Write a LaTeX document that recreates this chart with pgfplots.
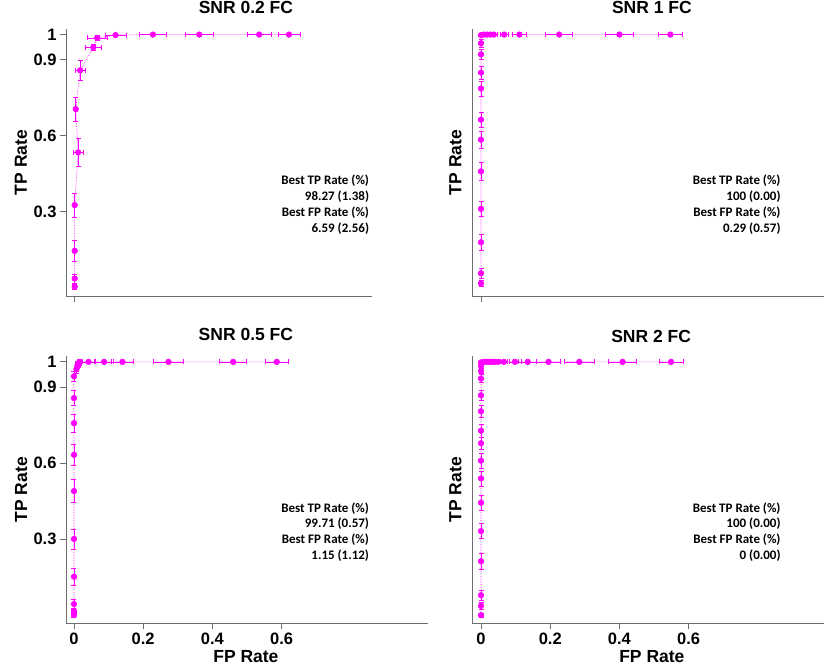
\documentclass[border=0pt]{standalone}
\usepackage{pgfplots}
\usepackage{pgfplotstable}
\pgfplotsset{compat=1.18}
\usepackage{fontspec}
\setmainfont{Liberation Sans}
\newfontfamily\calib{Carlito}
\definecolor{mag}{RGB}{255,0,255}
\definecolor{axgray}{RGB}{110,110,110}

\pgfplotstableread{
x y ex ey
0.002 0.005 0.003 0.010
0.002 0.037 0.003 0.017
0.002 0.146 0.003 0.040
0.002 0.327 0.003 0.047
0.012 0.535 0.015 0.054
0.005 0.706 0.005 0.047
0.018 0.859 0.014 0.040
0.056 0.950 0.023 0.012
0.067 0.987 0.028 0.011
0.120 0.998 0.031 0.003
0.228 1.000 0.039 0.000
0.362 1.000 0.041 0.000
0.535 1.000 0.035 0.000
0.621 1.000 0.032 0.000
}\snrA

\pgfplotstableread{
x y ex ey
0.000 0.018 0.002 0.010
0.000 0.058 0.002 0.020
0.000 0.180 0.002 0.030
0.000 0.312 0.002 0.030
0.000 0.460 0.002 0.035
0.000 0.585 0.002 0.035
0.000 0.664 0.002 0.030
0.000 0.787 0.002 0.030
0.000 0.850 0.002 0.025
0.000 0.922 0.002 0.020
0.000 0.966 0.002 0.015
0.000 0.998 0.002 0.004
0.008 1.000 0.006 0.000
0.017 1.000 0.008 0.000
0.027 1.000 0.009 0.000
0.037 1.000 0.010 0.000
0.067 1.000 0.012 0.000
0.111 1.000 0.020 0.000
0.226 1.000 0.039 0.000
0.400 1.000 0.040 0.000
0.547 1.000 0.035 0.000
}\snrB

\pgfplotstableread{
x y ex ey
0.000 0.000 0.002 0.008
0.000 0.009 0.002 0.010
0.000 0.017 0.002 0.012
0.000 0.044 0.002 0.020
0.000 0.152 0.002 0.035
0.000 0.301 0.002 0.040
0.000 0.490 0.002 0.045
0.000 0.633 0.002 0.040
0.000 0.758 0.002 0.035
0.000 0.857 0.002 0.030
0.000 0.943 0.002 0.020
0.007 0.971 0.006 0.015
0.010 0.984 0.007 0.010
0.013 0.995 0.008 0.006
0.017 1.000 0.008 0.000
0.042 1.000 0.017 0.000
0.087 1.000 0.026 0.000
0.140 1.000 0.031 0.000
0.273 1.000 0.043 0.000
0.460 1.000 0.039 0.000
0.586 1.000 0.034 0.000
}\snrC

\pgfplotstableread{
x y ex ey
0.000 0.000 0.002 0.008
0.000 0.037 0.002 0.015
0.000 0.079 0.002 0.020
0.000 0.213 0.002 0.030
0.000 0.332 0.002 0.030
0.000 0.444 0.002 0.030
0.000 0.540 0.002 0.030
0.000 0.610 0.002 0.030
0.000 0.679 0.002 0.025
0.000 0.728 0.002 0.025
0.000 0.805 0.002 0.025
0.000 0.868 0.002 0.020
0.000 0.934 0.002 0.015
0.000 0.964 0.002 0.010
0.000 0.984 0.002 0.008
0.000 0.998 0.002 0.004
0.008 1.000 0.005 0.000
0.016 1.000 0.006 0.000
0.024 1.000 0.006 0.000
0.032 1.000 0.007 0.000
0.039 1.000 0.008 0.000
0.049 1.000 0.008 0.000
0.066 1.000 0.010 0.000
0.098 1.000 0.017 0.000
0.135 1.000 0.026 0.000
0.195 1.000 0.034 0.000
0.284 1.000 0.043 0.000
0.409 1.000 0.041 0.000
0.549 1.000 0.035 0.000
}\snrD

\newcommand{\bigbf}{\fontsize{17.5}{20}\selectfont\bfseries}
\pgfplotsset{
  rocax/.style={
    scale only axis, anchor=south west,
    height=267pt,
    ymin=-0.032, ymax=1.022,
    axis lines=left,
    axis line style={-, draw=axgray, line width=0.9pt},
    tick style={draw=axgray, line width=0.9pt},
    tick align=outside,
    major tick length=6pt,
    clip=false,
    /pgf/number format/assume math mode=true,
    ticklabel style={font=\fontsize{16.5}{18}\selectfont\bfseries, text=black},
  },
  barsty/.style={mag, solid, line width=0.6pt, forget plot},
  capy/.style={mag, only marks, mark=-, mark size=2.5pt, mark options={solid, draw=mag, line width=0.6pt}, forget plot},
  capx/.style={mag, only marks, mark=|, mark size=2.5pt, mark options={solid, draw=mag, line width=0.6pt}, forget plot},
  rocline/.style={
    mag, densely dotted, line width=0.6pt,
    mark=*, mark size=2.8pt, mark options={solid, fill=mag, draw=mag},
  },
}
\newcommand{\rocdata}[1]{%
  % vertical (TP rate) error bars
  \addplot[barsty, quiver={u=0, v=2*\thisrow{ey}}] table[x=x, y expr=\thisrow{y}-\thisrow{ey}] {#1};
  \addplot[capy] table[x=x, y expr=\thisrow{y}-\thisrow{ey}] {#1};
  \addplot[capy] table[x=x, y expr=\thisrow{y}+\thisrow{ey}] {#1};
  % horizontal (FP rate) error bars
  \addplot[barsty, quiver={u=2*\thisrow{ex}, v=0}] table[x expr=\thisrow{x}-\thisrow{ex}, y=y] {#1};
  \addplot[capx] table[x expr=\thisrow{x}-\thisrow{ex}, y=y] {#1};
  \addplot[capx] table[x expr=\thisrow{x}+\thisrow{ex}, y=y] {#1};
  % ROC curve
  \addplot[rocline] table[x=x, y=y] {#1};
}
\tikzset{ann/.style={anchor=east, align=right, inner sep=0pt, text=black, font=\calib\bfseries\fontsize{13}{15.9}\selectfont}}

\begin{document}
\begin{tikzpicture}
\useasboundingbox (0,0) rectangle (824pt,670pt);

% Top-left: SNR 0.2
\begin{axis}[rocax, at={(66pt,374pt)}, width=306pt,
  xmin=-0.0231, xmax=0.861,
  xtick={0}, xticklabels={},
  ytick={0.3,0.6,0.9,1}, yticklabels={0.3,0.6,0.9,1},
  ylabel={TP Rate},
  every axis y label/.style={at={(axis description cs:-0.147,0.5)}, rotate=90, anchor=center, font=\bigbf, text=black},
  title={SNR 0.2 FC},
  every axis title/.style={at={(axis description cs:0.588,1.08)}, anchor=center, font=\bigbf, text=black},
]
\rocdata{\snrA}
\node[ann] at (axis cs:0.853,0.328) {Best TP Rate (\%)\\98.27 (1.38)\\Best FP Rate (\%)\\6.59 (2.56)};
\end{axis}

% Top-right: SNR 1
\begin{axis}[rocax, at={(472pt,374pt)}, width=352pt,
  xmin=-0.026, xmax=0.991,
  xtick={0}, xticklabels={},
  ytick=\empty,
  ylabel={TP Rate},
  every axis y label/.style={at={(axis description cs:-0.047,0.5)}, rotate=90, anchor=center, font=\bigbf, text=black},
  title={SNR 1 FC},
  every axis title/.style={at={(axis description cs:0.511,1.08)}, anchor=center, font=\bigbf, text=black},
]
\rocdata{\snrB}
\node[ann] at (axis cs:0.866,0.328) {Best TP Rate (\%)\\100 (0.00)\\Best FP Rate (\%)\\0.29 (0.57)};
\end{axis}

% Bottom-left: SNR 0.5
\begin{axis}[rocax, at={(66pt,46.7pt)}, width=362pt,
  xmin=-0.0231, xmax=1.023,
  xtick={0,0.2,0.4,0.6}, xticklabels={0,0.2,0.4,0.6},
  ytick={0.3,0.6,0.9,1}, yticklabels={0.3,0.6,0.9,1},
  ylabel={TP Rate}, xlabel={FP Rate},
  every axis y label/.style={at={(axis description cs:-0.124,0.5)}, rotate=90, anchor=center, font=\bigbf, text=black},
  every axis x label/.style={at={(axis description cs:0.497,-0.125)}, anchor=center, font=\bigbf, text=black},
  title={SNR 0.5 FC},
  every axis title/.style={at={(axis description cs:0.497,1.081)}, anchor=center, font=\bigbf, text=black},
]
\rocdata{\snrC}
\node[ann] at (axis cs:0.853,0.328) {Best TP Rate (\%)\\99.71 (0.57)\\Best FP Rate (\%)\\1.15 (1.12)};
\end{axis}

% Bottom-right: SNR 2
\begin{axis}[rocax, at={(472pt,46.7pt)}, width=352pt,
  xmin=-0.026, xmax=0.991,
  xtick={0,0.2,0.4,0.6}, xticklabels={0,0.2,0.4,0.6},
  ytick=\empty,
  ylabel={TP Rate}, xlabel={FP Rate},
  every axis y label/.style={at={(axis description cs:-0.047,0.5)}, rotate=90, anchor=center, font=\bigbf, text=black},
  every axis x label/.style={at={(axis description cs:0.511,-0.124)}, anchor=center, font=\bigbf, text=black},
  title={SNR 2 FC},
  every axis title/.style={at={(axis description cs:0.509,1.076)}, anchor=center, font=\bigbf, text=black},
]
\rocdata{\snrD}
\node[ann] at (axis cs:0.866,0.328) {Best TP Rate (\%)\\100 (0.00)\\Best FP Rate (\%)\\0 (0.00)};
\end{axis}
\end{tikzpicture}
\end{document}
